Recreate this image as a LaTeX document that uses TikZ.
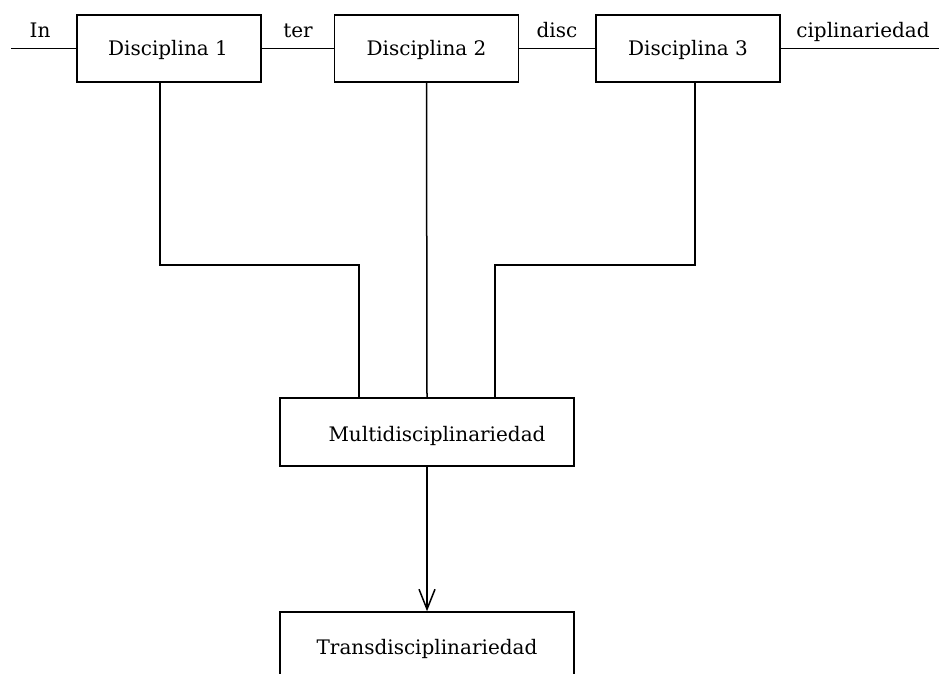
\documentclass[tikz,border=0pt]{standalone}
\usepackage{fontspec}
\setmainfont{DejaVu Serif}
\usetikzlibrary{arrows.meta}
\begin{document}
\begin{tikzpicture}[x=1pt,y=-1pt,
  box/.style={draw,line width=1.5pt,minimum width=184pt,minimum height=67pt,inner sep=0pt},
  lbl/.style={font=\fontsize{20}{23}\selectfont,anchor=base,inner sep=0pt},
  ln/.style={line width=1.5pt}]
\useasboundingbox (0,0) rectangle (939,674);
\clip (0,0) rectangle (939,674);
\node[box] (d1) at (169,48.5) {};
\node[box] (d2) at (426.5,48.5) {};
\node[box] (d3) at (688,48.5) {};
\node[box,minimum width=294pt,minimum height=68pt] (m) at (427,432) {};
\node[box,minimum width=294pt,minimum height=80pt] (t) at (427,652) {};
\node[lbl] at (168,56) {Disciplina 1};
\node[lbl] at (426.5,56) {Disciplina 2};
\node[lbl] at (688,56) {Disciplina 3};
\node[lbl] at (437,441) {Multidisciplinariedad};
\node[lbl] at (427,654) {Transdisciplinariedad};
\node[lbl] at (40,38) {In};
\node[lbl] at (298,38) {ter};
\node[lbl] at (557,38) {disc};
\node[lbl] at (863,38) {ciplinariedad};
\coordinate (l0) at (11,48.5);
\coordinate (r0) at (939,48.5);
\draw[ln] (l0) -- (d1.west);
\draw[ln] (d1.east) -- (d2.west);
\draw[ln] (d2.east) -- (d3.west);
\draw[ln] (d3.east) -- (r0);
\draw[ln] (d1.south -| 160,0) |- (359,265) -- (m.north -| 359,0);
\draw[ln] (d2.south) -- (m.north);
\draw[ln] (d3.south -| 695,0) |- (495,265) -- (m.north -| 495,0);
\draw[ln,-{Straight Barb[length=20pt,width=16pt,line width=1.5pt]}] (m.south) -- (t.north);
\end{tikzpicture}
\end{document}
